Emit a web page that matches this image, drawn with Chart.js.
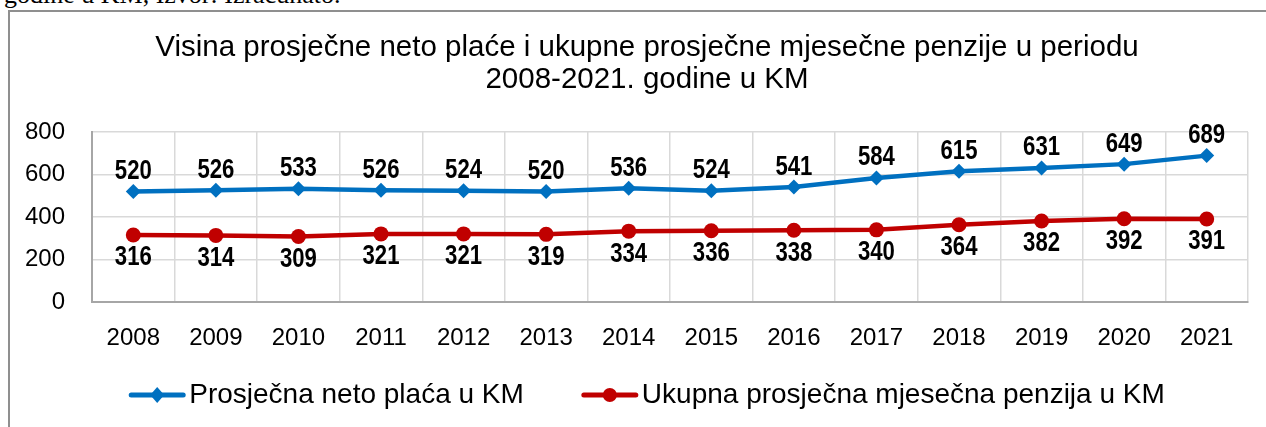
<!DOCTYPE html>
<html><head><meta charset="utf-8">
<script src="https://cdn.jsdelivr.net/npm/chart.js@4"></script>
<style>
html,body{margin:0;padding:0;background:#fff;overflow:hidden;width:1266px;height:427px;}
#top{position:absolute;left:4px;top:-20px;font:26px "Liberation Serif";white-space:nowrap;color:#000;line-height:30px;}
#frame{position:absolute;left:8px;top:10px;width:1400px;height:600px;border:2px solid #8f8f8f;box-sizing:border-box;}
#wrap{position:absolute;left:0;top:0;width:1290px;height:427px;}
</style></head><body>
<div id="top">godine u KM, Izvor: Izračunato.</div>
<div id="frame"></div>
<div id="wrap"><canvas id="c"></canvas></div>
<script>
const categories = ['2008','2009','2010','2011','2012','2013','2014','2015','2016','2017','2018','2019','2020','2021'];
const netoPlaca = [520,526,533,526,524,520,536,524,541,584,615,631,649,689];
const penzija = [316,314,309,321,321,319,334,336,338,340,364,382,392,391];
const seriesNames = ['Prosječna neto plaća u KM','Ukupna prosječna mjesečna penzija u KM'];
const titleLines = ['Visina prosječne neto plaće i ukupne prosječne mjesečne penzije u periodu','2008-2021. godine u KM'];
const yTicks = {min:0, max:800, step:200};

const BLUE = '#0070C0', RED = '#C00000';
const SANS = '"Liberation Sans", Arial, sans-serif';

const labelPlugin = {
  id: 'valueLabels',
  afterDatasetsDraw(chart) {
    const ctx = chart.ctx;
    chart.data.datasets.forEach((ds, di) => {
      const meta = chart.getDatasetMeta(di);
      meta.data.forEach((pt, i) => {
        const off = di === 0 ? -20 : 23;
        ctx.save();
        ctx.font = 'bold 27px ' + SANS;
        ctx.fillStyle = '#000';
        ctx.textAlign = 'center';
        ctx.textBaseline = 'middle';
        ctx.translate(pt.x, pt.y + off);
        ctx.scale(0.82, 1);
        ctx.fillText(String(ds.data[i]), 0, 0);
        ctx.restore();
      });
    });
  }
};

const legendPlugin = {
  id: 'lineLegend',
  afterDraw(chart) {
    const ctx = chart.ctx;
    ctx.save();
    ctx.font = '28px ' + SANS;
    ctx.textBaseline = 'middle';
    ctx.fillStyle = '#000';
    const y = 395;
    const lineW = 56, gapT = 4, gapItem = 58;
    const ds = chart.data.datasets;
    const widths = ds.map(d => ctx.measureText(d.label).width);
    const total = ds.length * (lineW + gapT) + widths.reduce((a,b)=>a+b,0) + gapItem * (ds.length - 1);
    let x = 647 - total / 2;
    ds.forEach((d, i) => {
      ctx.strokeStyle = d.borderColor;
      ctx.lineWidth = 5;
      ctx.lineCap = 'round';
      ctx.beginPath();
      ctx.moveTo(x + 2, y);
      ctx.lineTo(x + lineW - 2, y);
      ctx.stroke();
      const cx = x + lineW / 2;
      ctx.fillStyle = d.borderColor;
      ctx.beginPath();
      if (d.pointStyle === 'rectRot') {
        ctx.moveTo(cx, y - 8); ctx.lineTo(cx + 7, y); ctx.lineTo(cx, y + 8); ctx.lineTo(cx - 7, y); ctx.closePath();
      } else {
        ctx.arc(cx, y, 7, 0, Math.PI * 2);
      }
      ctx.fill();
      ctx.fillStyle = '#000';
      ctx.fillText(d.label, x + lineW + gapT, y);
      x += lineW + gapT + widths[i] + gapItem;
    });
    ctx.restore();
  }
};

const PAD_LEFT = 10;
new Chart(document.getElementById('c'), {
  type: 'line',
  data: {
    labels: categories,
    datasets: [
      {label: seriesNames[0], data: netoPlaca, borderColor: BLUE, backgroundColor: BLUE, borderWidth: 4.5,
       pointStyle: 'rectRot', pointRadius: 7.5, pointHoverRadius: 7.5, pointBorderWidth: 0, tension: 0},
      {label: seriesNames[1], data: penzija, borderColor: RED, backgroundColor: RED, borderWidth: 4.5,
       pointStyle: 'circle', pointRadius: 7.5, pointHoverRadius: 7.5, pointBorderWidth: 0, tension: 0}
    ]
  },
  options: {
    responsive: true, maintainAspectRatio: false, animation: false,
    events: [],
    layout: {padding: {left: PAD_LEFT, right: 6, top: 32, bottom: 52}},
    plugins: {
      legend: {display: false},
      tooltip: {enabled: false},
      title: {display: true, text: titleLines, color: '#000',
        font: {family: SANS, size: 29.5, weight: 'normal', lineHeight: 32/29.5},
        padding: {top: 0, bottom: 36}}
    },
    scales: {
      x: {
        offset: true,
        grid: {offset: true, color: '#d9d9d9', lineWidth: 1.5, drawTicks: false},
        border: {display: true, color: '#a6a6a6', width: 2},
        ticks: {color: '#000', font: {family: SANS, size: 24, lineHeight: 1.2}, padding: 22, maxRotation: 0, autoSkip: false}
      },
      y: {
        min: yTicks.min, max: yTicks.max,
        grid: {color: '#d9d9d9', lineWidth: 1.5, drawTicks: false},
        border: {display: true, color: '#a6a6a6', width: 2},
        ticks: {stepSize: yTicks.step, color: '#000', font: {family: SANS, size: 24}, padding: 27},
        afterFit(s) { s.width = 92 - PAD_LEFT; }
      },
      yRight: {
        position: 'right', display: true,
        grid: {display: false, drawTicks: false},
        border: {display: false},
        ticks: {display: false},
        afterFit(s) { s.width = 36; }
      }
    }
  },
  plugins: [labelPlugin, legendPlugin]
});
</script>
</body></html>
